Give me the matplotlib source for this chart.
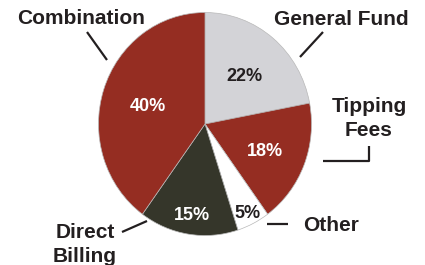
import numpy as np
import matplotlib
matplotlib.use("Agg")
import matplotlib.pyplot as plt

# ---- data ----
categories = ["General Fund", "Tipping Fees", "Other", "Direct Billing", "Combination"]
shares = [22, 18, 5, 15, 40]
colors = ["#d3d3d7", "#952d22", "#ffffff", "#35362a", "#952d22"]
pct_colors = ["#231f20", "white", "#231f20", "white", "white"]
pct_dist = [0.58, 0.61, 0.88, 0.81, 0.56]

plt.rcParams["font.family"] = ["Liberation Sans", "DejaVu Sans"]

fig = plt.figure(figsize=(4.25, 2.65), dpi=100)
W, H = 425, 265

# pie axes (box in pixels: left, top, right, bottom)
pl, pt, pr, pb = 98.5, 12.5, 311.5, 235.5
ax = fig.add_axes([pl / W, (H - pb) / H, (pr - pl) / W, (pb - pt) / H])
wedges, _, autotexts = ax.pie(
    shares, colors=colors, startangle=90, counterclock=False,
    autopct=lambda p: f"{p:.0f}%", radius=1,
    wedgeprops=dict(edgecolor="#b8b8b8", linewidth=0.5),
    textprops=dict(fontsize=13, fontweight="bold"))
ax.set_aspect("auto")
ax.set_xlim(-1, 1)
ax.set_ylim(-1, 1)

for w, t, d, c in zip(wedges, autotexts, pct_dist, pct_colors):
    mid = np.deg2rad((w.theta1 + w.theta2) / 2)
    t.set_position((d * np.cos(mid), d * np.sin(mid)))
    t.set_color(c)
    t.set_va("center_baseline")

# overlay in pixel coordinates for labels / leader lines
ov = fig.add_axes([0, 0, 1, 1])
ov.set_xlim(0, W)
ov.set_ylim(H, 0)
ov.axis("off")
ov.patch.set_alpha(0)

lab = dict(fontsize=15, fontweight="bold", color="#231f20", ha="center",
           va="baseline")
ov.text(81, 24, "Combination", **lab)
ov.text(341, 25, "General Fund", **lab)
ov.text(369, 112, "Tipping", **lab)
ov.text(369, 136, "Fees", **lab)
ov.text(331, 231, "Other", **lab)
ov.text(85, 238, "Direct", **lab)
ov.text(85, 262, "Billing", **lab)

ln = dict(color="#231f20", lw=1.6, solid_capstyle="butt")
ov.plot([87, 107], [32, 60], **ln)
ov.plot([300, 323], [57, 32], **ln)
ov.plot([323, 369, 369], [161, 161, 146], **ln)
ov.plot([267, 288], [224, 224], **ln)
ov.plot([122, 147], [232, 221], **ln)

fig.savefig("out.png", dpi=100)
